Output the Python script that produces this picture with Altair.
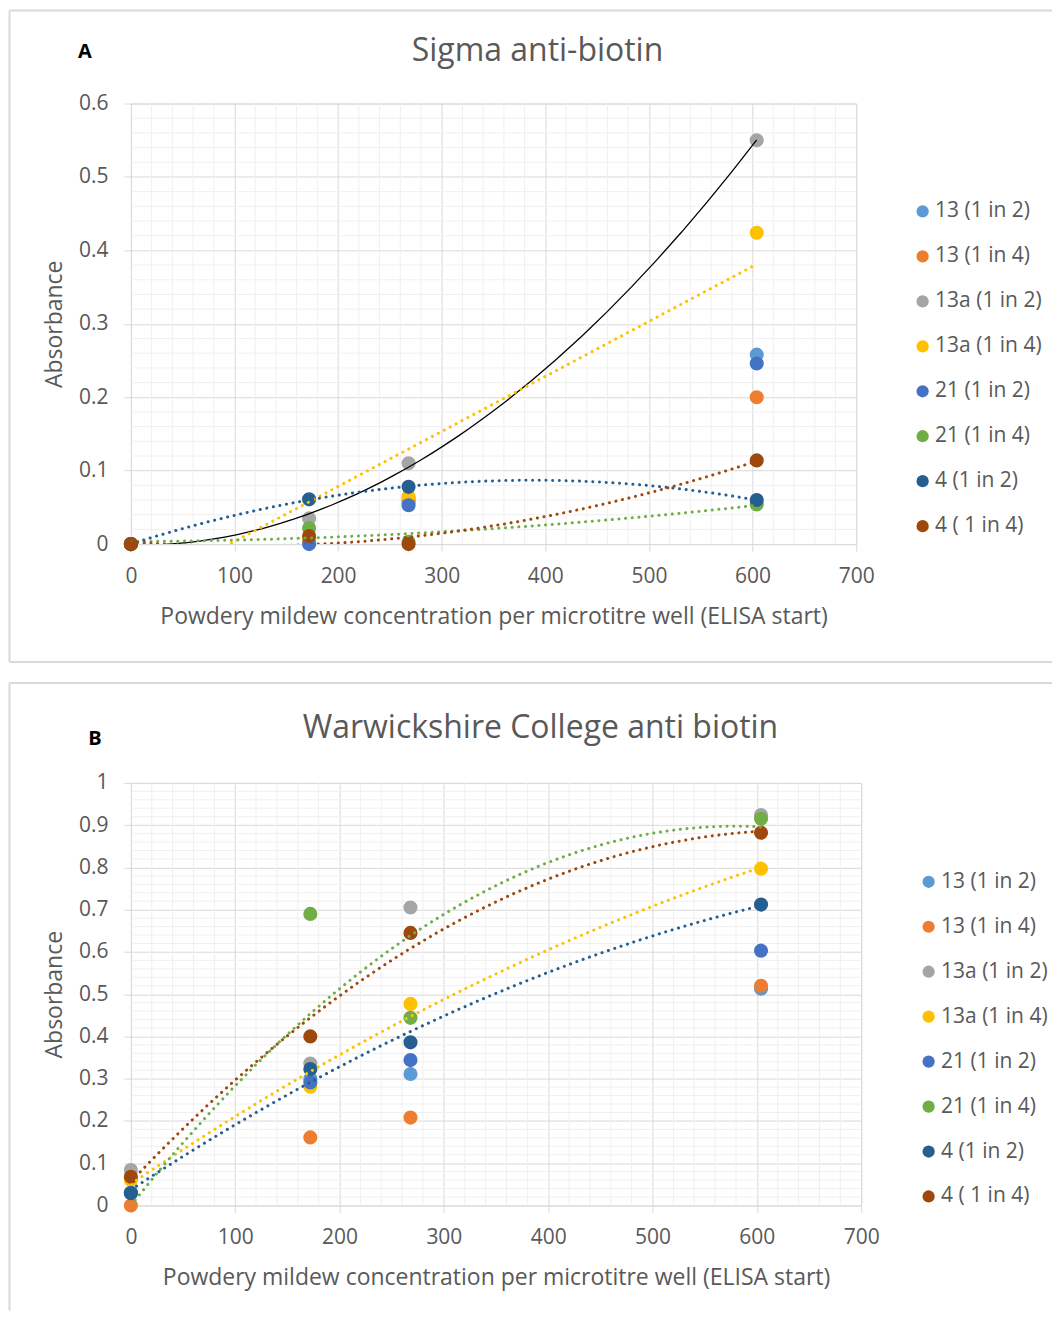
import altair as alt
import pandas as pd

FONT = "Open Sans"
GREY_TEXT = "#595959"
MAJOR = "#D9D9D9"
MINOR = "#F0F0F0"

X_VALUES = [0, 172, 268, 604]
SERIES = ["13 (1 in 2)", "13 (1 in 4)", "13a (1 in 2)", "13a (1 in 4)",
          "21 (1 in 2)", "21 (1 in 4)", "4 (1 in 2)", "4 ( 1 in 4)"]
COLORS = ["#5B9BD5", "#ED7D31", "#A5A5A5", "#FFC000",
          "#4472C4", "#70AD47", "#255E91", "#9E480E"]

# Panel A: Sigma anti-biotin
A_VALUES = {
    "13 (1 in 2)":  [0.0, 0.005, 0.058, 0.258],
    "13 (1 in 4)":  [0.0, 0.006, 0.062, 0.200],
    "13a (1 in 2)": [0.0, 0.035, 0.110, 0.550],
    "13a (1 in 4)": [0.0, 0.008, 0.065, 0.424],
    "21 (1 in 2)":  [0.0, 0.000, 0.053, 0.246],
    "21 (1 in 4)":  [0.0, 0.022, 0.003, 0.054],
    "4 (1 in 2)":   [0.0, 0.061, 0.078, 0.060],
    "4 ( 1 in 4)":  [0.0, 0.011, 0.000, 0.114],
}
# Panel B: Warwickshire College anti biotin (values below 0 are hidden by the axis)
B_VALUES = {
    "13 (1 in 2)":  [0.030, 0.300, 0.311, 0.513],
    "13 (1 in 4)":  [0.000, 0.161, 0.208, 0.520],
    "13a (1 in 2)": [0.084, 0.336, 0.705, 0.924],
    "13a (1 in 4)": [0.060, 0.281, 0.477, 0.797],
    "21 (1 in 2)":  [0.030, 0.291, 0.344, 0.603],
    "21 (1 in 4)":  [-0.060, 0.690, 0.444, 0.915],
    "4 (1 in 2)":   [0.029, 0.323, 0.386, 0.712],
    "4 ( 1 in 4)":  [0.068, 0.400, 0.645, 0.882],
}

# trendlines: (series, method, colour, dotted)
A_TRENDS = [("13a (1 in 2)", "poly", "#000000", False),
            ("13a (1 in 4)", "linear", "#FFC000", True),
            ("21 (1 in 4)", "poly", "#70AD47", True),
            ("4 (1 in 2)", "poly", "#255E91", True),
            ("4 ( 1 in 4)", "poly", "#9E480E", True)]
B_TRENDS = [("13a (1 in 4)", "poly", "#FFC000", True),
            ("21 (1 in 4)", "poly", "#70AD47", True),
            ("4 (1 in 2)", "poly", "#255E91", True),
            ("4 ( 1 in 4)", "poly", "#9E480E", True)]

X_TICKS = [0, 100, 200, 300, 400, 500, 600, 700]
A_Y_TICKS = [0, 0.1, 0.2, 0.3, 0.4, 0.5, 0.6]
B_Y_TICKS = [0, 0.1, 0.2, 0.3, 0.4, 0.5, 0.6, 0.7, 0.8, 0.9, 1]
X_MINOR = [v for v in range(0, 701, 20) if v % 100 != 0]
A_Y_MINOR = [round(i * 0.02, 2) for i in range(31) if i % 5 != 0]
B_Y_MINOR = [round(i * 0.02, 2) for i in range(51) if i % 5 != 0]

X_TITLE = "Powdery mildew concentration per microtitre well (ELISA start)"
Y_TITLE = "Absorbance"


def long_df(values):
    rows = []
    for k, s in enumerate(SERIES):
        for x, y in zip(X_VALUES, values[s]):
            rows.append({"conc": x, "abs": y, "series": s, "order": k})
    return pd.DataFrame(rows)


def panel(values, trends, y_ticks, y_minor, title, letter, w, h, ymax,
          title_xy, letter_xy, legend_xy, frame):
    df = long_df(values)
    xs = alt.Scale(domain=[0, 700], nice=False)
    ys = alt.Scale(domain=[0, ymax], nice=False)
    common = dict(grid=True, gridColor=MAJOR, domain=False, tickColor=MAJOR, tickSize=7,
                  labelFontSize=21, labelColor=GREY_TEXT, labelFont=FONT,
                  titleFontSize=23, titleColor=GREY_TEXT, titleFont=FONT,
                  titleFontWeight="normal", labelFlush=False)
    xaxis = alt.Axis(values=X_TICKS, title=X_TITLE, labelPadding=14, titlePadding=19,
                     format="d", **common)
    yaxis = alt.Axis(values=y_ticks, title=Y_TITLE, labelPadding=16, titlePadding=12,
                     format=".1~f", **common)

    one = pd.DataFrame({"d": [0]})
    fx1, fx2, fy1, fy2, bottom = frame
    border = [
        alt.Chart(one).mark_rule(color=MAJOR, strokeWidth=2).encode(
            x=alt.value(fx1), x2=alt.value(fx2), y=alt.value(fy1)),
        alt.Chart(one).mark_rule(color=MAJOR, strokeWidth=2).encode(
            x=alt.value(fx1), y=alt.value(fy1), y2=alt.value(fy2)),
    ]
    if bottom:
        border.append(alt.Chart(one).mark_rule(color=MAJOR, strokeWidth=2).encode(
            x=alt.value(fx1), x2=alt.value(fx2), y=alt.value(fy2)))

    vminor = alt.Chart(pd.DataFrame({"v": X_MINOR})).mark_rule(
        color=MINOR, strokeWidth=1).encode(x=alt.X("v:Q", scale=xs, axis=xaxis))
    hminor = alt.Chart(pd.DataFrame({"v": y_minor})).mark_rule(
        color=MINOR, strokeWidth=1).encode(y=alt.Y("v:Q", scale=ys, axis=yaxis))

    pts = alt.Chart(df).transform_filter(alt.datum.abs >= 0).mark_circle(
        size=200, opacity=1).encode(
        x=alt.X("conc:Q", scale=xs, axis=xaxis),
        y=alt.Y("abs:Q", scale=ys, axis=yaxis),
        color=alt.Color("series:N", scale=alt.Scale(domain=SERIES, range=COLORS),
                        legend=alt.Legend(title=None, orient="none",
                                          legendX=legend_xy[0], legendY=legend_xy[1],
                                          symbolType="circle", symbolSize=150,
                                          symbolStrokeWidth=0,
                                          labelFontSize=21, labelColor=GREY_TEXT,
                                          labelFont=FONT, labelOffset=2,
                                          rowPadding=23, padding=0)),
        order=alt.Order("order:Q"),
    )

    layers = border + [vminor, hminor, pts]
    for s, method, col, dotted in trends:
        kw = dict(color=col, clip=True)
        if dotted:
            kw.update(strokeWidth=3, strokeDash=[0.1, 6.6], strokeCap="round")
        else:
            kw.update(strokeWidth=1.3)
        reg = alt.Chart(df).transform_filter(alt.datum.series == s).transform_regression(
            "conc", "abs", method=method, order=2
        ).mark_line(**kw).encode(
            x=alt.X("conc:Q", scale=xs, axis=xaxis),
            y=alt.Y("abs:Q", scale=ys, axis=yaxis))
        layers.append(reg)

    lab = alt.Chart(one).mark_text(fontSize=20, fontWeight="bold", font=FONT,
                                   color="#000000", align="center", baseline="middle").encode(
        x=alt.value(letter_xy[0]), y=alt.value(letter_xy[1]), text=alt.value(letter))
    ttl = alt.Chart(one).mark_text(fontSize=32, font=FONT, color=GREY_TEXT,
                                   align="center", baseline="middle").encode(
        x=alt.value(title_xy[0]), y=alt.value(title_xy[1]), text=alt.value(title))
    layers += [lab, ttl]

    return alt.layer(*layers).properties(width=w, height=h)


chart_a = panel(A_VALUES, A_TRENDS, A_Y_TICKS, A_Y_MINOR, "Sigma anti-biotin", "A",
                726, 441, 0.6, (407, -53), (-46, -52), (782, 97.5),
                (-121.5, 922, -93, 559, True))
chart_b = panel(B_VALUES, B_TRENDS, B_Y_TICKS, B_Y_MINOR, "Warwickshire College anti biotin", "B",
                731, 423, 1.0, (410, -55), (-36, -44), (788, 88.5),
                (-121.5, 922, -100, 528, False))

chart = alt.vconcat(chart_a, chart_b, spacing=17).resolve_scale(
    color="independent").resolve_legend(color="independent").properties(
    padding=0).configure_view(stroke=None).configure(font=FONT)

chart.save("out.html", embed_options={"renderer": "svg", "actions": False})
